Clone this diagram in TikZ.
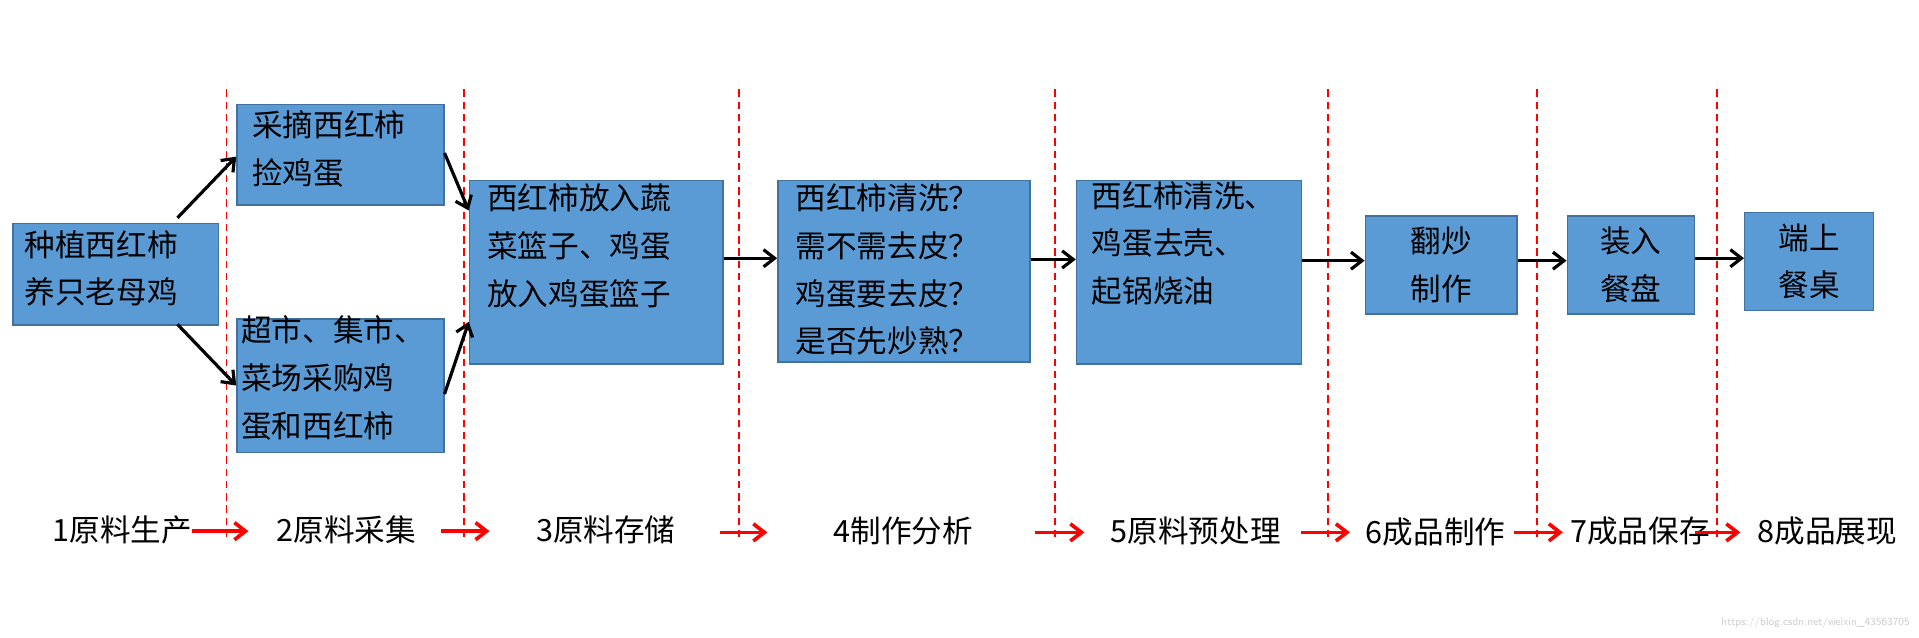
\documentclass[tikz,border=0pt]{standalone}
\usepackage{fontspec}
\newfontfamily\cjk{Noto Sans CJK SC}
\usetikzlibrary{arrows.meta}
\begin{document}
\begin{tikzpicture}[x=1pt,y=-1pt,
  box/.style={draw=boxline,fill=boxfill,line width=1.2pt,inner sep=0pt,anchor=north west},
  txt/.style={font=\cjk\fontsize{25}{39}\selectfont,align=left,anchor=north west,inner sep=0pt},
  ctxt/.style={font=\cjk\fontsize{25}{39}\selectfont,align=center,inner sep=0pt},
  lab/.style={font=\cjk\fontsize{25}{30}\selectfont,inner sep=0pt},
  flow/.style={-{Straight Barb[length=9pt,width=14pt]},line width=2.6pt,black},
  rflow/.style={-{Straight Barb[length=9pt,width=14pt]},line width=3pt,red},
  sep/.style={red,dashed,line width=1.2pt,dash pattern=on 6pt off 4pt}]
\definecolor{boxfill}{HTML}{5B9BD5}
\definecolor{boxline}{HTML}{41719C}
\useasboundingbox (0,0) rectangle (1568,521);
% boxes
\node[box,minimum width=168pt,minimum height=83pt] (A) at (10,182) {};
\node[box,minimum width=169pt,minimum height=82pt] (B) at (193,85) {};
\node[box,minimum width=169pt,minimum height=109pt] (C) at (193,260) {};
\node[box,minimum width=207pt,minimum height=150pt] (D) at (383,147) {};
\node[box,minimum width=206pt,minimum height=148pt] (E) at (635,147) {};
\node[box,minimum width=184pt,minimum height=150pt] (F) at (879,147) {};
\node[box,minimum width=124pt,minimum height=80pt] (G) at (1115,176) {};
\node[box,minimum width=104pt,minimum height=80pt] (H) at (1280,176) {};
\node[box,minimum width=105pt,minimum height=80pt] (I) at (1425,173) {};
% texts
\node[txt] (tA) at (20,188) {种植西红柿\\养只老母鸡};
\node[txt] (tB) at (206,90) {采摘西红柿\\捡鸡蛋};
\node[txt] (tC) at (197,258) {超市、集市、\\菜场采购鸡\\蛋和西红柿};
\node[txt] (tD) at (398,150) {西红柿放入蔬\\菜篮子、鸡蛋\\放入鸡蛋篮子};
\node[txt] (tE) at (650,150) {西红柿清洗？\\需不需去皮？\\鸡蛋要去皮？\\是否先炒熟？};
\node[txt] (tF) at (892,148) {西红柿清洗、\\鸡蛋去壳、\\起锅烧油};
\node[ctxt] (tG) at (G.center) {翻炒\\制作};
\node[ctxt] (tH) at (H.center) {装入\\餐盘};
\node[ctxt] (tI) at (I.center) {端上\\餐桌};
% dashed separators
\foreach \x/\n in {185/s1,379/s2,604/s3,862/s4,1085/s5,1256/s6,1403/s7}{
  \coordinate (\n a) at (\x,73); \coordinate (\n b) at (\x,440);
  \draw[sep] (\n a) -- (\n b);}
% black arrows
\draw[flow] (145,178) -- (B.west |- 0,128);
\draw[flow] (145,265) -- (C.west |- 0,315);
\draw[flow] (B.east |- 0,125) -- (D.west |- 0,172);
\draw[flow] (C.east |- 0,322) -- (D.west |- 0,263);
\draw[flow] (D.east |- 0,211) -- (E.west |- 0,211);
\draw[flow] (E.east |- 0,212) -- (F.west |- 0,212);
\draw[flow] (F.east |- 0,213) -- (G.west |- 0,213);
\draw[flow] (G.east |- 0,213) -- (H.west |- 0,213);
\draw[flow] (H.east |- 0,211) -- (I.west |- 0,211);
% stage labels
\node[lab] (L1) at (100,433) {1原料生产};
\node[lab] (L2) at (283,433) {2原料采集};
\node[lab] (L3) at (495,433) {3原料存储};
\node[lab] (L4) at (738,434) {4制作分析};
\node[lab] (L5) at (977,434) {5原料预处理};
\node[lab] (L6) at (1173,435) {6成品制作};
\node[lab] (L7) at (1340,434) {7成品保存};
\node[lab] (L8) at (1493,434) {8成品展现};
\draw[rflow] (L1.east |- 0,434) ++(0,0) -- (203,434);
\draw[rflow] (360,434) -- (400,434);
\draw[rflow] (588,435) -- (627,435);
\draw[rflow] (846,435) -- (886,435);
\draw[rflow] (1063,435) -- (1103,435);
\draw[rflow] (1237,435) -- (1277,435);
\draw[rflow] (1385,435) -- (1422,435);
\node[font=\fontsize{9}{10}\selectfont\sffamily,text=gray!40,anchor=south east] (wm) at (1564,517) {https://blog.csdn.net/weixin\_43563705};
\end{tikzpicture}
\end{document}
